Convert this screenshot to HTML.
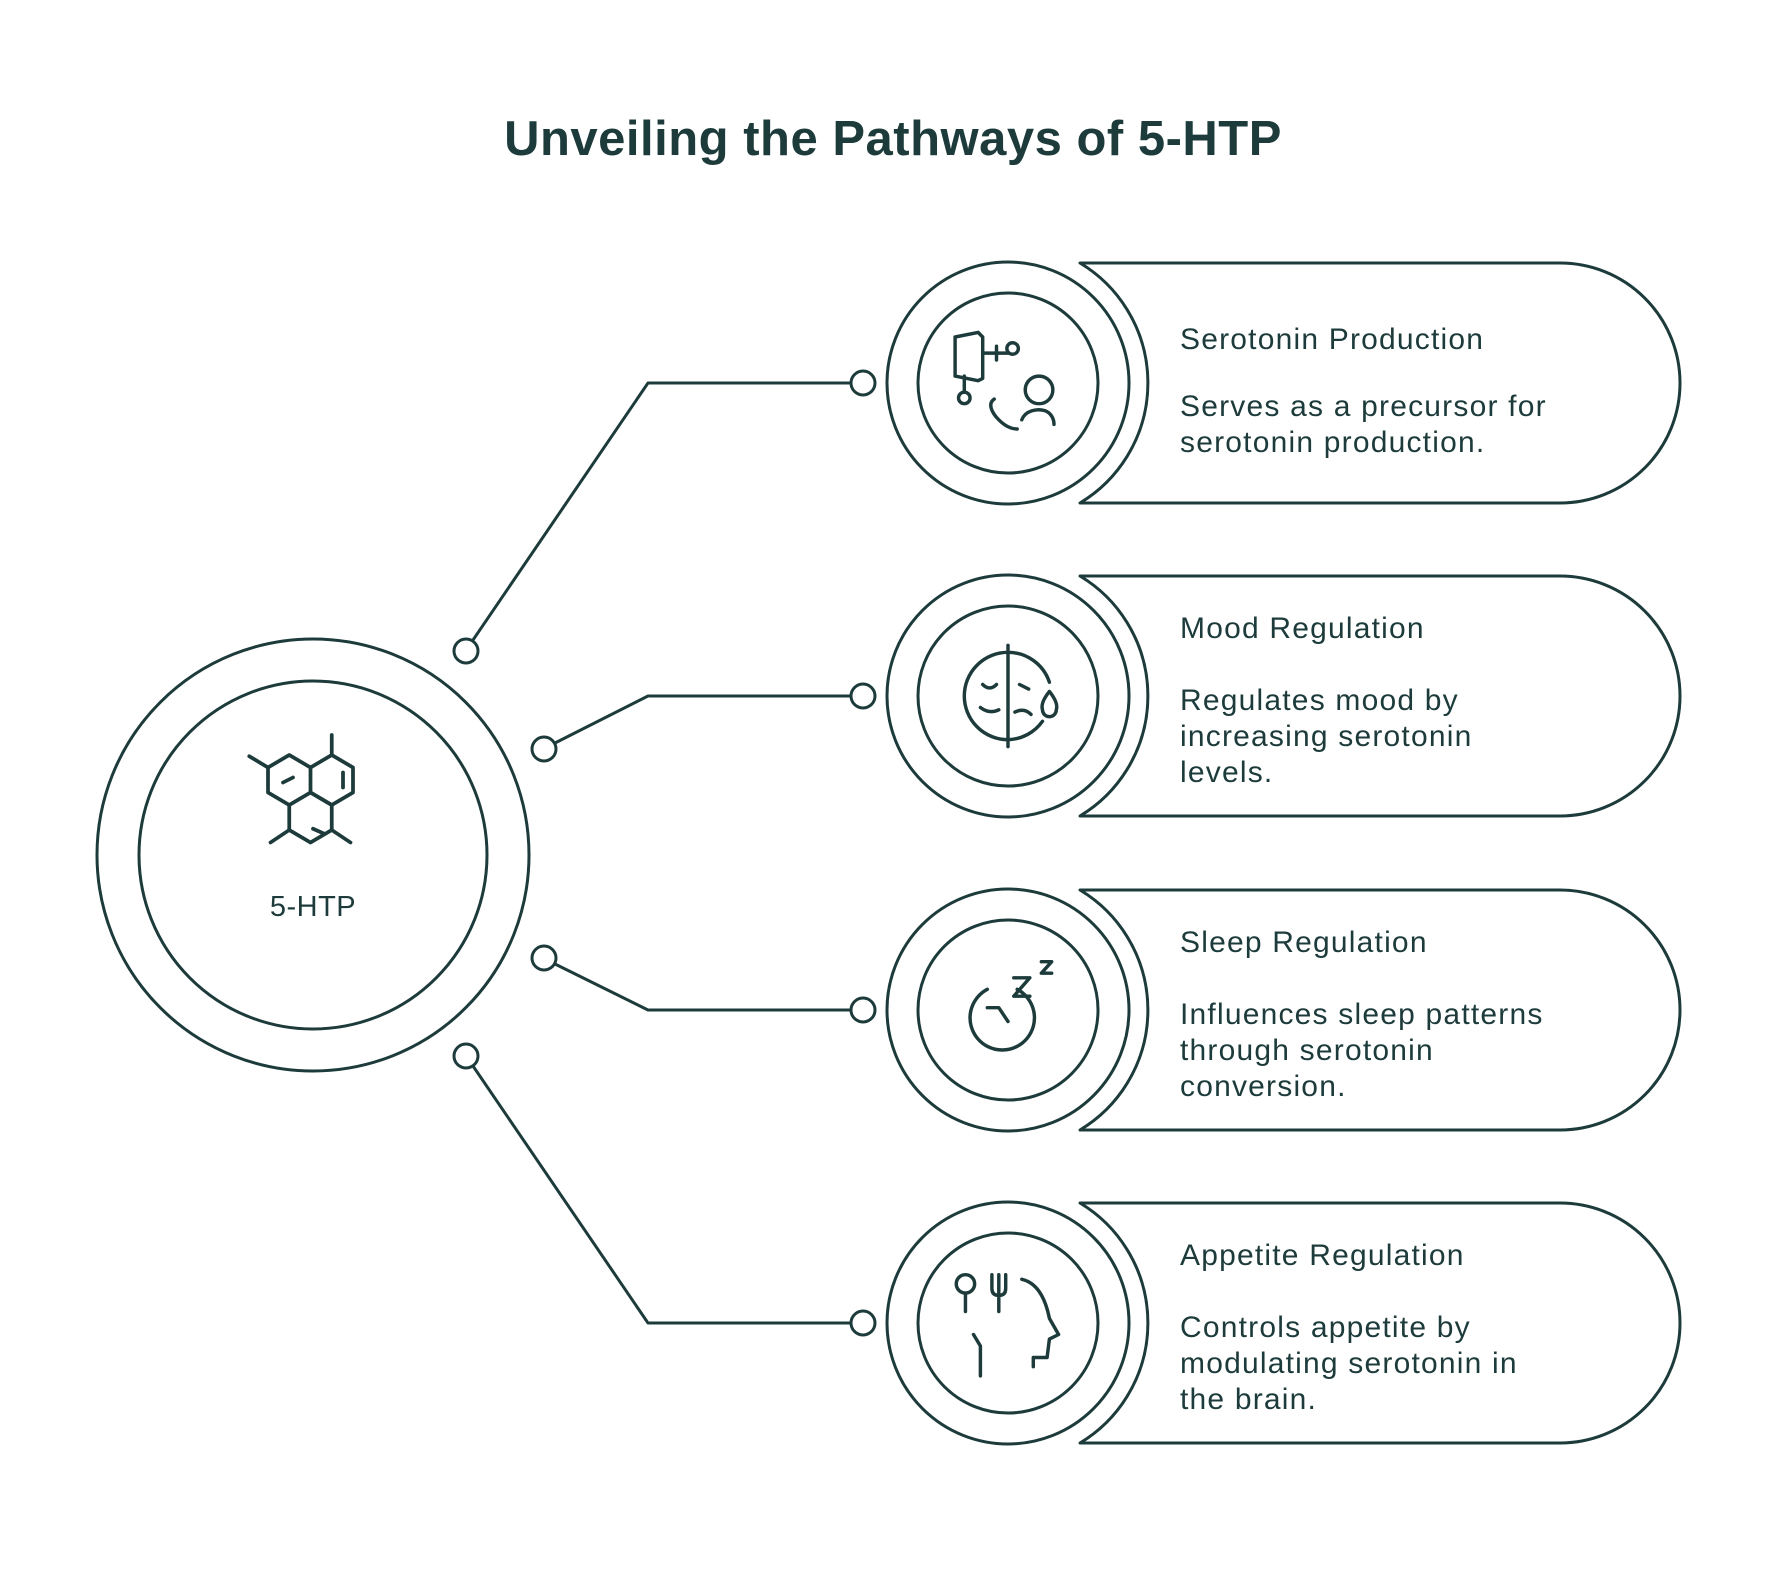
<!DOCTYPE html>
<html><head><meta charset="utf-8"><style>
html,body{margin:0;padding:0;background:#fff;}
svg{display:block;}
text{font-family:"Liberation Sans",sans-serif;fill:#1d3b3b;}
</style></head><body>
<svg width="1776" height="1584" viewBox="0 0 1776 1584" xmlns="http://www.w3.org/2000/svg">
<text x="893" y="155" text-anchor="middle" font-size="49" font-weight="bold" letter-spacing="0.5">Unveiling the Pathways of 5-HTP</text>
<g fill="none" stroke="#1d3b3b" stroke-width="3" stroke-linecap="round" stroke-linejoin="round">
<circle cx="313" cy="855" r="216"/>
<circle cx="313" cy="855" r="174"/>
<g transform="translate(0,-2)">
<path d="M851 385 H648 L473 642"/><circle cx="863" cy="385" r="12"/><circle cx="466" cy="653" r="12"/>
<path d="M851 698 H648 L555 745"/><circle cx="863" cy="698" r="12"/><circle cx="544" cy="751" r="12"/>
<path d="M851 1012 H648 L555 966"/><circle cx="863" cy="1012" r="12"/><circle cx="544" cy="960" r="12"/>
<path d="M851 1325 H648 L473 1068"/><circle cx="863" cy="1325" r="12"/><circle cx="466" cy="1058" r="12"/>
<g>
<circle cx="1008" cy="385" r="121"/><circle cx="1008" cy="385" r="90"/>
<path d="M1080 265 H1560 A120 120 0 0 1 1560 505 H1080 A140 140 0 0 0 1080 265 Z"/>
</g>
<g transform="translate(0,313)">
<circle cx="1008" cy="385" r="121"/><circle cx="1008" cy="385" r="90"/>
<path d="M1080 265 H1560 A120 120 0 0 1 1560 505 H1080 A140 140 0 0 0 1080 265 Z"/>
</g>
<g transform="translate(0,627)">
<circle cx="1008" cy="385" r="121"/><circle cx="1008" cy="385" r="90"/>
<path d="M1080 265 H1560 A120 120 0 0 1 1560 505 H1080 A140 140 0 0 0 1080 265 Z"/>
</g>
<g transform="translate(0,940)">
<circle cx="1008" cy="385" r="121"/><circle cx="1008" cy="385" r="90"/>
<path d="M1080 265 H1560 A120 120 0 0 1 1560 505 H1080 A140 140 0 0 0 1080 265 Z"/>
</g>
<g transform="translate(1008,385) scale(1.15)">
<path d="M-46 -40 L-26 -44 L-22 -40 L-22 -4 L-26 -2 L-46 -6 Z"/>
<path d="M-22 -26 H-10 M-10 -32 V-20 M-10 -26 H0"/><circle cx="4" cy="-30" r="5"/>
<path d="M-38 -6 V8"/><circle cx="-38" cy="13" r="5"/>
<circle cx="27" cy="6" r="12"/>
<path d="M12 32 C15 24 25 22 32 24 C38 26 40 32 40 36"/>
<path d="M-12 14 C-18 18 -14 26 -8 32 C-2 38 4 40 8 40"/>
</g>
<g transform="translate(1008,698) scale(1.15)">
<path d="M0 -44 V44"/>
<path d="M0 -38 A38 38 0 0 0 0 38"/>
<path d="M0 -38 A38 38 0 0 1 36 -12 M30 22 A38 38 0 0 1 0 38"/>
<path d="M-22 -10 Q-16 -4 -10 -10 M-24 10 Q-16 16 -8 12 M10 -10 L18 -6 M6 14 Q14 10 20 16"/>
<path d="M36 -4 Q28 6 30 12 A6 6 0 0 0 42 12 Q44 6 36 -4 Z"/>
</g>
<g transform="translate(1008,1012) scale(1.15)">
<path d="M-18 -18 A28 28 0 1 0 8 -18"/>
<path d="M-18 -2 H-8 L0 10"/>
<path d="M5 -28 H19 L5 -12 H19 M29 -42 H38 L29 -32 H38"/>
</g>
<g transform="translate(1008,1325) scale(1.15)">
<circle cx="-37" cy="-34" r="8"/><path d="M-37 -26 V-10"/>
<path d="M-14 -42 V-30 Q-14 -24 -8 -24 Q-2 -24 -2 -30 V-42 M-8 -42 V-10"/>
<path d="M12 -38 Q30 -34 36 -4 L44 10 L36 14 L34 30 L22 30 V38"/>
<path d="M-30 10 L-24 20 V46"/>
</g>
</g>
<g transform="translate(318,800) scale(1.25)">
<path d="M-40 -26 L-23 -36 L-6 -26 L-6 -6 L-23 4 L-40 -6 Z"/>
<path d="M-6 -26 L11 -36 L28 -26 L28 -6 L11 4 L-6 -6"/>
<path d="M-6 -6 L11 4 L11 24 L-6 34 L-23 24 L-23 4"/>
<path d="M-40 -26 L-55 -35 M11 -36 L11 -52 M-23 24 L-38 34 M11 24 L26 34"/>
<path d="M20 -22 V-10 M-28 -14 L-20 -18 M-4 23 L5 27"/>
</g>
</g>
<text x="313" y="916" text-anchor="middle" font-size="29" letter-spacing="0.5">5-HTP</text>
<g font-size="30" letter-spacing="1.2">
<text x="1180" y="349">Serotonin Production</text>
<text x="1180" y="416">Serves as a precursor for</text>
<text x="1180" y="452">serotonin production.</text>
<text x="1180" y="638">Mood Regulation</text>
<text x="1180" y="710">Regulates mood by</text>
<text x="1180" y="746">increasing serotonin</text>
<text x="1180" y="782">levels.</text>
<text x="1180" y="952">Sleep Regulation</text>
<text x="1180" y="1024">Influences sleep patterns</text>
<text x="1180" y="1060">through serotonin</text>
<text x="1180" y="1096">conversion.</text>
<text x="1180" y="1265">Appetite Regulation</text>
<text x="1180" y="1337">Controls appetite by</text>
<text x="1180" y="1373">modulating serotonin in</text>
<text x="1180" y="1409">the brain.</text>
</g>
</svg>
</body></html>
